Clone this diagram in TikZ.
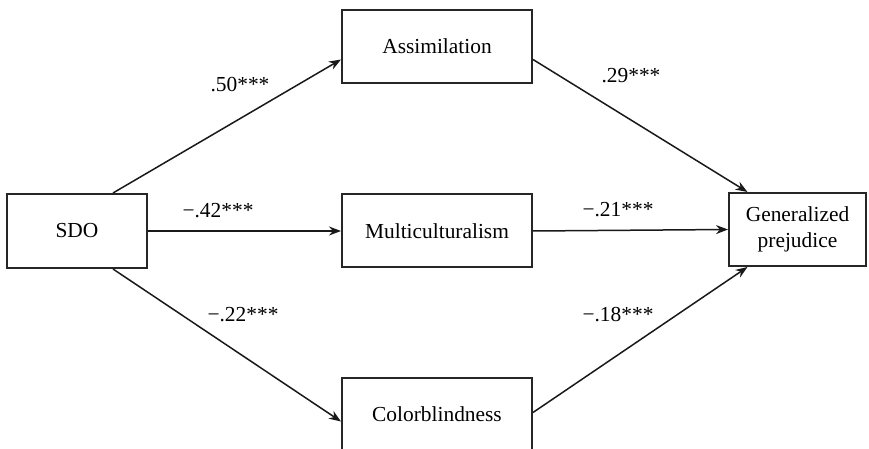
\documentclass[tikz,border=0pt]{standalone}
\usepackage{fontspec}
\setmainfont{Liberation Serif}
\usepackage{tikz}
\usetikzlibrary{positioning, arrows.meta}

\begin{document}
\begin{tikzpicture}[
    x=0.5pt, y=-0.5pt,
    box/.style={rectangle, draw=black!85, line width=1pt, inner sep=0pt,
                minimum width=95pt, minimum height=36.5pt, align=center,
                font=\fontsize{10.7}{13}\selectfont},
    coef/.style={font=\fontsize{10.7}{13}\selectfont, inner sep=1pt},
    path/.style={draw=black!90, line width=0.75pt, -{Stealth[length=6pt, width=4.5pt]}},
  ]
  \useasboundingbox (0,0) rectangle (869,449);

  % Boxes
  \node[box, minimum width=70pt, minimum height=37pt] (sdo) at (77,231) {SDO};
  \node[box] (assim) at (437,46.5) {Assimilation};
  \node[box] (multi) at (437,231) {Multiculturalism};
  \node[box] (color) at (437,414.5) {Colorblindness};
  \node[box, minimum width=68.5pt] (prej) at (797.5,229.5) {Generalized\\prejudice};

  % Paths from SDO
  \draw[path] ([xshift=18pt]sdo.north) -- ([yshift=-6.5pt]assim.west);
  \draw[path] (sdo.east) -- (multi.west);
  \draw[path] ([xshift=18pt]sdo.south) -- ([yshift=-3.5pt]color.west);

  % Paths to prejudice
  \draw[path] ([yshift=-6.5pt]assim.east) -- ([xshift=-25pt]prej.north);
  \draw[path] (multi.east) -- (prej.west);
  \draw[path] ([yshift=1pt]color.east) -- ([xshift=-25pt]prej.south);

  % Coefficients
  \node[coef] (c1) at (240,85) {.50***};
  \node[coef] (c2) at (218,211) {−.42***};
  \node[coef] (c3) at (243,315) {−.22***};
  \node[coef] (c4) at (631,76) {.29***};
  \node[coef] (c5) at (618,210) {−.21***};
  \node[coef] (c6) at (618,315) {−.18***};
\end{tikzpicture}
\end{document}
